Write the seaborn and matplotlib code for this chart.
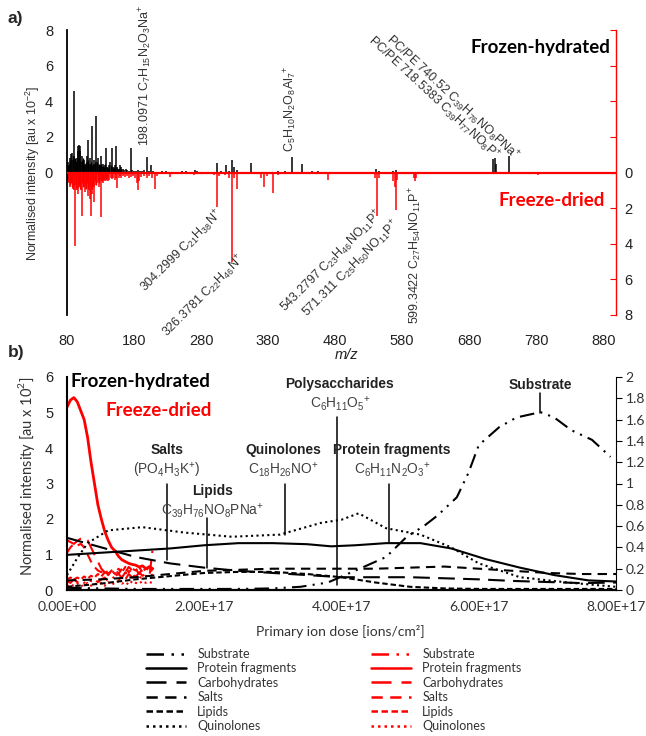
import re
import numpy as np
import matplotlib
matplotlib.use("Agg")
import matplotlib.pyplot as plt
from matplotlib.lines import Line2D
from matplotlib import font_manager as fm
import seaborn as sns

# ---------------- Panel a: ToF-SIMS spectra ----------------
fh_mz = [80.5, 82, 84, 86, 87, 88, 90, 91, 93, 95, 96, 97, 98, 99, 100, 101, 103, 105, 107, 109,
         110, 112, 113, 115, 117, 118, 120, 121, 123, 124, 126, 128, 130, 132, 134, 136, 138, 140,
         142, 144, 147, 149, 151, 153, 155, 157, 159, 161, 163, 165, 168, 170, 173, 175, 177, 180,
         183, 186, 189, 192, 195, 199, 202, 205, 209, 215, 221, 228, 235, 242, 251, 258, 265, 271,
         274, 281, 289, 296, 304, 310, 317, 321, 326, 329, 333, 340, 354, 365, 380, 395, 405, 416,
         423, 430, 445, 455, 470, 490, 541, 545, 567, 571, 600, 690, 700, 716, 718, 720, 740, 755]
fh_int = [0.3, 0.6, 0.8, 1.05, 0.7, 1.1, 4.6, 0.9, 0.6, 0.8, 1.2, 1.5, 1.55, 1.5, 1.2, 0.6, 0.9,
          0.7, 0.4, 0.5, 0.9, 1.8, 0.5, 0.8, 2.6, 0.4, 0.7, 0.5, 3.2, 0.6, 0.8, 0.4, 0.9, 0.3, 0.5,
          0.4, 1.4, 0.3, 0.4, 0.6, 1.35, 0.3, 0.4, 1.5, 0.3, 0.2, 0.4, 0.3, 0.2, 0.15, 0.2, 0.15,
          0.1, 1.4, 0.15, 0.1, 0.1, 0.15, 0.1, 0.1, 0.15, 0.85, 0.1, 0.4, 0.1, 0.05, 0.1, 0.08,
          0.05, 0.05, 0.08, 0.1, 0.05, 0.12, 0.1, 0.05, 0.05, 0.05, 0.55, 0.1, 0.4, 0.1, 0.7, 0.3,
          0.15, 0.05, 0.55, 0.05, 0.05, 0.08, 0.1, 0.85, 0.05, 0.45, 0.1, 0.1, 0.05, 0.03, 0.2,
          0.1, 0.1, 0.15, 0.05, 0.05, 0.05, 0.75, 0.8, 0.5, 0.9, 0.05]
fh_minor_mz = [81, 83, 85, 89, 92, 94, 102, 104, 106, 108, 111, 114, 116, 119, 122, 125, 127, 129,
               131, 133, 135, 137, 139, 141, 143, 145, 146, 148, 150, 152, 154, 156, 158, 160]
fh_minor_int = [0.4, 0.5, 0.7, 0.9, 0.8, 0.6, 0.7, 0.8, 0.5, 0.6, 0.7, 0.5, 0.6, 0.4, 0.5, 0.6,
                0.5, 0.4, 0.5, 0.35, 0.3, 0.45, 0.3, 0.25, 0.35, 0.3, 0.4, 0.25, 0.3, 0.2, 0.25,
                0.2, 0.15, 0.2]
fd_mz = [81, 83, 85, 87, 89, 91, 92, 93, 95, 97, 99, 101, 103, 105, 107, 109, 111, 113, 115, 116,
         118, 120, 121, 123, 125, 127, 129, 131, 133, 135, 137, 139, 141, 143, 145, 147, 149, 151,
         153, 155, 157, 159, 161, 163, 166, 169, 172, 175, 178, 181, 184, 186, 188, 191, 195, 199,
         203, 207, 211, 214, 218, 225, 233, 240, 248, 255, 262, 270, 278, 285, 293, 300, 304, 307,
         315, 322, 326, 329, 333, 340, 350, 360, 370, 374, 378, 387, 395, 405, 420, 440, 455, 469,
         480, 500, 520, 540, 543, 546, 567, 569, 571, 573, 597, 599, 601, 620, 650, 700, 783]
fd_int = [0.4, 0.6, 0.8, 0.5, 0.9, 1.0, 4.1, 0.7, 1.0, 1.2, 0.8, 1.0, 2.45, 0.8, 1.1, 0.9, 1.3,
          1.0, 1.5, 2.45, 1.2, 0.8, 1.65, 0.7, 0.6, 0.8, 0.5, 2.5, 0.6, 0.4, 0.5, 0.3, 0.5, 0.4,
          0.3, 0.35, 0.3, 0.4, 0.3, 0.85, 0.3, 0.2, 0.3, 0.2, 0.25, 0.2, 0.3, 0.25, 0.2, 0.3, 0.6,
          1.0, 0.5, 0.25, 0.2, 0.3, 0.2, 0.3, 0.9, 0.2, 0.1, 0.1, 0.25, 0.1, 0.1, 0.1, 0.1, 0.15,
          0.1, 0.1, 0.1, 0.15, 1.95, 0.2, 0.15, 0.3, 5.0, 0.3, 0.9, 0.1, 0.1, 0.1, 0.3, 0.8, 0.2,
          1.15, 0.15, 0.1, 0.1, 0.05, 0.05, 0.4, 0.05, 0.05, 0.05, 0.3, 2.45, 0.3, 0.5, 0.8, 2.1,
          0.4, 0.3, 0.5, 0.3, 0.05, 0.03, 0.03, 0.15]
fd_minor_mz = [82, 84, 86, 88, 90, 94, 96, 98, 100, 102, 104, 106, 108, 110, 112, 114, 117, 119,
               122, 124, 126, 128, 130, 132, 134, 136, 138, 140]
fd_minor_int = [0.5, 0.7, 0.6, 0.8, 0.7, 0.9, 0.8, 0.7, 0.9, 0.6, 0.8, 0.7, 0.9, 0.6, 0.8, 0.7,
                0.9, 0.6, 0.5, 0.7, 0.5, 0.6, 0.4, 0.5, 0.4, 0.35, 0.4, 0.3]
spec_xticks = [80, 180, 280, 380, 480, 580, 680, 780, 880]

# ---------------- Panel b: depth profiles (dose in 1e17 ions/cm2) ----------------
series_names = ["Substrate", "Protein fragments", "Carbohydrates", "Salts", "Lipids", "Quinolones"]

fh_substrate_x = [0, 0.5, 1.0, 1.5, 2.0, 2.5, 3.0, 3.4, 3.8, 4.3, 4.65, 4.95, 5.2, 5.4, 5.68, 5.85,
                  6.0, 6.3, 6.55, 6.9, 7.1, 7.35, 7.65, 7.92]
fh_substrate_y = [0.02, 0.015, 0.01, 0.01, 0.01, 0.01, 0.015, 0.03, 0.07, 0.21, 0.31, 0.50, 0.60,
                  0.70, 0.87, 1.10, 1.36, 1.53, 1.62, 1.67, 1.62, 1.50, 1.41, 1.25]
fh_protein_x = [0, 0.5, 1.0, 1.5, 2.0, 2.5, 3.0, 3.5, 3.85, 4.2, 4.65, 5.15, 5.6, 6.1, 6.6, 7.1,
                7.6, 8.0]
fh_protein_y = [0.33, 0.35, 0.37, 0.39, 0.42, 0.44, 0.44, 0.43, 0.41, 0.42, 0.44, 0.44, 0.39, 0.29,
                0.21, 0.14, 0.09, 0.08]
fh_grid_x = [0, 0.5, 1.0, 1.5, 2.0, 2.5, 3.0, 3.5, 4.0, 4.5, 5.0, 5.5, 6.0, 6.5, 7.0, 7.5, 8.0]
fh_carbo_y = [0.49, 0.40, 0.31, 0.25, 0.21, 0.18, 0.16, 0.14, 0.12, 0.12, 0.12, 0.11, 0.10, 0.085,
              0.075, 0.065, 0.07]
fh_salts_y = [0.09, 0.10, 0.12, 0.15, 0.18, 0.19, 0.20, 0.20, 0.20, 0.20, 0.21, 0.22, 0.20, 0.18,
              0.16, 0.15, 0.15]
fh_lipids_y = [0.03, 0.06, 0.10, 0.13, 0.16, 0.17, 0.17, 0.15, 0.12, 0.07, 0.03, 0.015, 0.01, 0.01,
               0.01, 0.01, 0.01]
fh_quino_x = [0, 0.15, 0.3, 0.6, 1.1, 1.7, 2.4, 3.1, 3.7, 4.0, 4.25, 4.65, 5.15, 5.6, 6.0, 6.6,
              7.3, 8.0]
fh_quino_y = [0.14, 0.30, 0.44, 0.56, 0.59, 0.54, 0.50, 0.52, 0.63, 0.66, 0.72, 0.58, 0.52, 0.40,
              0.25, 0.12, 0.07, 0.03]

fd_x = [0, 0.05, 0.1, 0.15, 0.2, 0.25, 0.3, 0.35, 0.4, 0.45, 0.5, 0.55, 0.6, 0.65, 0.7, 0.75, 0.8,
        0.85, 0.9, 0.95, 1.0, 1.05, 1.1, 1.15, 1.2, 1.25]
fd_substrate_y = [0.25, 0.2, 0.3, 0.22, 0.28, 0.2, 0.3, 0.25, 0.32, 0.22, 0.3, 0.35, 0.25, 0.3, 0.4,
                  0.3, 0.35, 0.3, 0.45, 0.35, 0.4, 0.3, 0.45, 0.4, 0.35, 1.2]
fd_protein_y = [5.15, 5.35, 5.42, 5.3, 5.05, 4.8, 4.3, 3.6, 3.0, 2.4, 2.0, 1.65, 1.4, 1.2, 1.1, 0.95,
                0.85, 0.8, 0.75, 0.72, 0.7, 0.65, 0.68, 0.6, 0.66, 0.6]
fd_carbo_y = [1.4, 1.35, 1.3, 1.38, 1.45, 1.5, 1.4, 1.2, 1.0, 0.8, 0.6, 0.5, 0.45, 0.5, 0.4, 0.45,
              0.35, 0.5, 0.4, 0.45, 0.35, 0.5, 0.4, 0.45, 0.5, 0.4]
fd_salts_y = [1.05, 1.2, 1.3, 1.25, 1.3, 1.2, 1.0, 0.8, 0.65, 0.55, 0.5, 0.6, 0.45, 0.55, 0.6, 0.45,
              0.6, 0.5, 0.65, 0.55, 0.6, 0.45, 0.6, 0.55, 0.65, 0.5]
fd_lipids_y = [0.3, 0.35, 0.3, 0.35, 0.3, 0.38, 0.32, 0.4, 0.35, 0.45, 0.38, 0.5, 0.42, 0.55, 0.45,
               0.6, 0.5, 0.65, 0.5, 0.6, 0.55, 0.65, 0.5, 0.62, 0.55, 0.6]
fd_quino_y = [0.1, 0.15, 0.12, 0.18, 0.1, 0.15, 0.2, 0.12, 0.18, 0.15, 0.2, 0.12, 0.22, 0.15, 0.2,
              0.25, 0.18, 0.22, 0.15, 0.25, 0.2, 0.18, 0.25, 0.2, 0.22, 0.2]

dose_ticks = [0, 2, 4, 6, 8]
left_ticks_b = [0, 1, 2, 3, 4, 5, 6]
right_ticks_b = [0, 0.2, 0.4, 0.6, 0.8, 1.0, 1.2, 1.4, 1.6, 1.8, 2.0]

# annotation pointers (dose, right-axis from/to) and labels
ann_names = ["Salts", "Lipids", "Quinolones", "Polysaccharides", "Protein fragments", "Substrate"]
ann_formulas = ["(PO4H3K+)", "C39H76NO8PNa+", "C18H26NO+", "C6H11O5+", "C6H11N2O3+", ""]
ann_dose = [1.46, 2.04, 3.18, 3.93, 4.69, 6.89]
ann_top = [1.0, 0.68, 1.0, 1.62, 1.0, 1.85]
ann_bottom = [0.28, 0.21, 0.52, 0.05, 0.45, 1.66]

# ---------------- style ----------------
sns.set_style("white")
names = {f.name for f in fm.fontManager.ttflist}
NARROW = "Liberation Sans Narrow" if "Liberation Sans Narrow" in names else "Liberation Sans"
NS = 1.0 if NARROW == "Liberation Sans Narrow" else 0.9
ARIAL = "Liberation Sans"
CAL = "Lato"
plt.rcParams["font.family"] = [ARIAL, "DejaVu Sans"]
plt.rcParams["axes.unicode_minus"] = True

RED = "#ff0000"
GREY = "#404040"

W, H = 646, 736
fig = plt.figure(figsize=(W / 100, H / 100), dpi=100)


def fx(x):
    return x / W


def fy(y):
    return 1 - y / H


def chem(s):
    out = ""
    for tok in re.findall(r"\d+|\+|[^\d+]+", s):
        if tok.isdigit():
            out += r"$_{\mathregular{" + tok + "}}$"
        elif tok == "+":
            out += r"$^{\mathregular{+}}$"
        else:
            out += tok
    return out


# ================= Panel a =================
axa = fig.add_axes([fx(67), fy(315), fx(616) - fx(67), fy(30) - fy(315)])
axa.set_xlim(80, 899)
axa.set_ylim(-8, 8)
axa.vlines(fh_mz, 0, fh_int, color="black", lw=1.1, zorder=3)
axa.vlines(fh_minor_mz, 0, fh_minor_int, color="black", lw=1.0, zorder=3)
axa.vlines(fd_mz, np.negative(fd_int), 0, color=RED, lw=1.1, zorder=2)
axa.vlines(fd_minor_mz, np.negative(fd_minor_int), 0, color=RED, lw=1.0, zorder=2)
axa.axhline(0, color=RED, lw=1.6, zorder=4)
for s in ["top", "right", "bottom"]:
    axa.spines[s].set_visible(False)
axa.spines["left"].set_color("black")
axa.spines["left"].set_linewidth(1.3)
axa.set_yticks([0, 2, 4, 6, 8])
axa.set_yticklabels(["0", "2", "4", "6", "8"])
axa.set_xticks(spec_xticks)
axa.set_xticklabels([str(v) for v in spec_xticks])
axa.tick_params(axis="both", length=0, labelsize=10.5, colors="#222222")
axa.tick_params(axis="y", pad=10)
axa.tick_params(axis="x", pad=14)
axa.grid(False)

axa2 = axa.twinx()
axa2.set_ylim(8, -8)
axa2.set_yticks([-8, -6, -4, -2, 0, 2, 4, 6, 8])
axa2.set_yticklabels(["", "", "", "", "0", "2", "4", "6", "8"])
for s in ["top", "left", "bottom"]:
    axa2.spines[s].set_visible(False)
axa2.spines["right"].set_color(RED)
axa2.spines["right"].set_linewidth(1.0)
axa2.tick_params(axis="y", direction="in", length=4, color=RED, labelcolor="#222222",
                 labelsize=10.5, pad=6)
axa2.grid(False)

fig.text(fx(33), fy(173), r"Normalised intensity [au x 10$^{\mathregular{-2}}$]",
         rotation=90, ha="center", va="center", fontsize=10 * NS,
         family=NARROW, color="#333333")
fig.text(fx(347), fy(355), "m/z", style="italic", ha="center", va="center", fontsize=10.5,
         color="#222222")
fig.text(fx(8), fy(18), "a)", fontsize=12.5, weight="bold", ha="left", va="center")

lab_kw = dict(family=NARROW, color="#333333", fontsize=9.0, rotation_mode="anchor")
fig.text(fx(145), fy(146), "198.0971 " + chem("C7H15N2O3Na+"), rotation=90, ha="left",
         va="center", **lab_kw)
fig.text(fx(290), fy(152), chem("C5H10N2O8Al7+"), rotation=90, ha="left", va="center", **lab_kw)
fig.text(fx(517), fy(158), "PC/PE 740.52 " + chem("C39H76NO8PNa+"), rotation=-43, ha="right",
         va="center", **lab_kw)
fig.text(fx(497), fy(158), "PC/PE 718.5383 " + chem("C39H77NO8P+"), rotation=-43, ha="right",
         va="center", **lab_kw)
fig.text(fx(221), fy(212), "304.2999 " + chem("C21H38N+"), rotation=45, ha="right",
         va="center", **lab_kw)
fig.text(fx(243), fy(257), "326.3781 " + chem("C22H46N+"), rotation=45, ha="right",
         va="center", **lab_kw)
fig.text(fx(381), fy(212), "543.2797 " + chem("C23H46NO11P+"), rotation=45, ha="right",
         va="center", **lab_kw)
fig.text(fx(398), fy(222), "571.311 " + chem("C25H50NO11P+"), rotation=45, ha="right",
         va="center", **lab_kw)
fig.text(fx(415), fy(186), "599.3422 " + chem("C27H54NO11P+"), rotation=90, ha="right",
         va="center", **lab_kw)

fig.text(fx(610), fy(47), "Frozen-hydrated", ha="right", va="center", fontsize=13.5,
         weight="bold", family=CAL, color="black")
fig.text(fx(605), fy(200), "Freeze-dried", ha="right", va="center", fontsize=13.5,
         weight="bold", family=CAL, color=RED)

# ================= Panel b =================
axb = fig.add_axes([fx(67), fy(590), fx(616) - fx(67), fy(377) - fy(590)])
axb.set_xlim(0, 8e17)
axb.set_ylim(0, 6)
axb2 = axb.twinx()
axb2.set_ylim(0, 2)

styles = {
    "Substrate": (0, (7, 3, 1, 3, 1, 3)),
    "Protein fragments": "-",
    "Carbohydrates": (0, (8, 4)),
    "Salts": (0, (4.5, 3)),
    "Lipids": (0, (2.6, 1.4)),
    "Quinolones": (0, (1, 1.6)),
}

fd_series = [fd_substrate_y, fd_protein_y, fd_carbo_y, fd_salts_y, fd_lipids_y, fd_quino_y]
for name, yv in zip(series_names, fd_series):
    sns.lineplot(x=np.array(fd_x) * 1e17, y=yv, ax=axb, color=RED,
                 lw=2.0 if name == "Protein fragments" else 1.5, linestyle=styles[name],
                 estimator=None, sort=False, legend=False)

fh_series = [(fh_substrate_x, fh_substrate_y), (fh_protein_x, fh_protein_y),
             (fh_grid_x, fh_carbo_y), (fh_grid_x, fh_salts_y), (fh_grid_x, fh_lipids_y),
             (fh_quino_x, fh_quino_y)]
for name, (xv, yv) in zip(series_names, fh_series):
    sns.lineplot(x=np.array(xv) * 1e17, y=yv, ax=axb2, color="black", lw=1.5,
                 linestyle=styles[name], estimator=None, sort=False, legend=False)

for d, t, b in zip(ann_dose, ann_top, ann_bottom):
    axb2.plot([d * 1e17, d * 1e17], [t, b], color="black", lw=1.1)

axb.set_xticks([v * 1e17 for v in dose_ticks])
axb.set_xticklabels(["%.2E" % (v * 1e17) for v in dose_ticks])
axb.set_yticks(left_ticks_b)
axb.set_yticklabels([str(v) for v in left_ticks_b])
axb.tick_params(axis="y", length=0, labelsize=10.5, colors="#222222", pad=10)
axb.tick_params(axis="x", length=0, labelsize=10, colors="#333333", pad=8)
for lab in axb.get_xticklabels():
    lab.set_family(CAL)
for s in ["top", "right"]:
    axb.spines[s].set_visible(False)
axb.spines["left"].set_linewidth(1.5)
axb.spines["bottom"].set_linewidth(1.6)
axb.spines["left"].set_color("black")
axb.spines["bottom"].set_color("black")
axb.grid(False)

axb2.set_yticks(right_ticks_b)
axb2.set_yticklabels(["%g" % v for v in right_ticks_b])
axb2.tick_params(axis="y", direction="out", length=4, color="black", labelsize=10,
                 labelcolor="#333333", pad=3)
for lab in axb2.get_yticklabels():
    lab.set_family(CAL)
for s in ["top", "left", "bottom"]:
    axb2.spines[s].set_visible(False)
axb2.spines["right"].set_linewidth(0.8)
axb2.spines["right"].set_color("black")
axb2.grid(False)
axb2.set_ylabel("")
axb.set_ylabel("")

fig.text(fx(27), fy(476), r"Normalised intensity [au x 10$^{\mathregular{2}}$]", rotation=90,
         ha="center", va="center", fontsize=10.5, family=CAL, color="#333333")
fig.text(fx(340), fy(632), "Primary ion dose [ions/cm²]", ha="center", va="center",
         fontsize=10, family=CAL, color="#333333")
fig.text(fx(8), fy(352), "b)", fontsize=12.5, weight="bold", ha="left", va="center")

fig.text(fx(70), fy(382), "Frozen-hydrated", ha="left", va="center", fontsize=13.5,
         weight="bold", family=CAL, color="black")
fig.text(fx(212), fy(410), "Freeze-dried", ha="right", va="center", fontsize=13.5,
         weight="bold", family=CAL, color=RED)

ann_label_px = [(167, 450), (213, 491), (283, 450), (340, 384), (392, 450), (540, 385)]
for name, form, (px, py) in zip(ann_names, ann_formulas, ann_label_px):
    fig.text(fx(px), fy(py), name, ha="center", va="center", fontsize=11 * NS,
             weight="bold", family=NARROW, color="#222222")
    if form:
        fig.text(fx(px), fy(py + 20), chem(form), ha="center", va="center",
                 fontsize=11 * NS, family=NARROW, color=GREY)

# legends
fh_handles = [Line2D([], [], color="black", lw=1.8, linestyle=styles[n]) for n in series_names]
fd_handles = [Line2D([], [], color=RED, lw=1.8, linestyle=styles[n]) for n in series_names]
leg_kw = dict(frameon=False, loc="upper left", borderpad=0, borderaxespad=0,
              handlelength=3.2, handletextpad=0.9, labelspacing=0.19,
              prop={"family": CAL, "size": 9}, labelcolor="#333333")
fig.legend(fh_handles, series_names, bbox_to_anchor=(fx(146), fy(648)), **leg_kw)
fig.legend(fd_handles, series_names, bbox_to_anchor=(fx(371), fy(648)), **leg_kw)

fig.savefig("out.png", dpi=100)
